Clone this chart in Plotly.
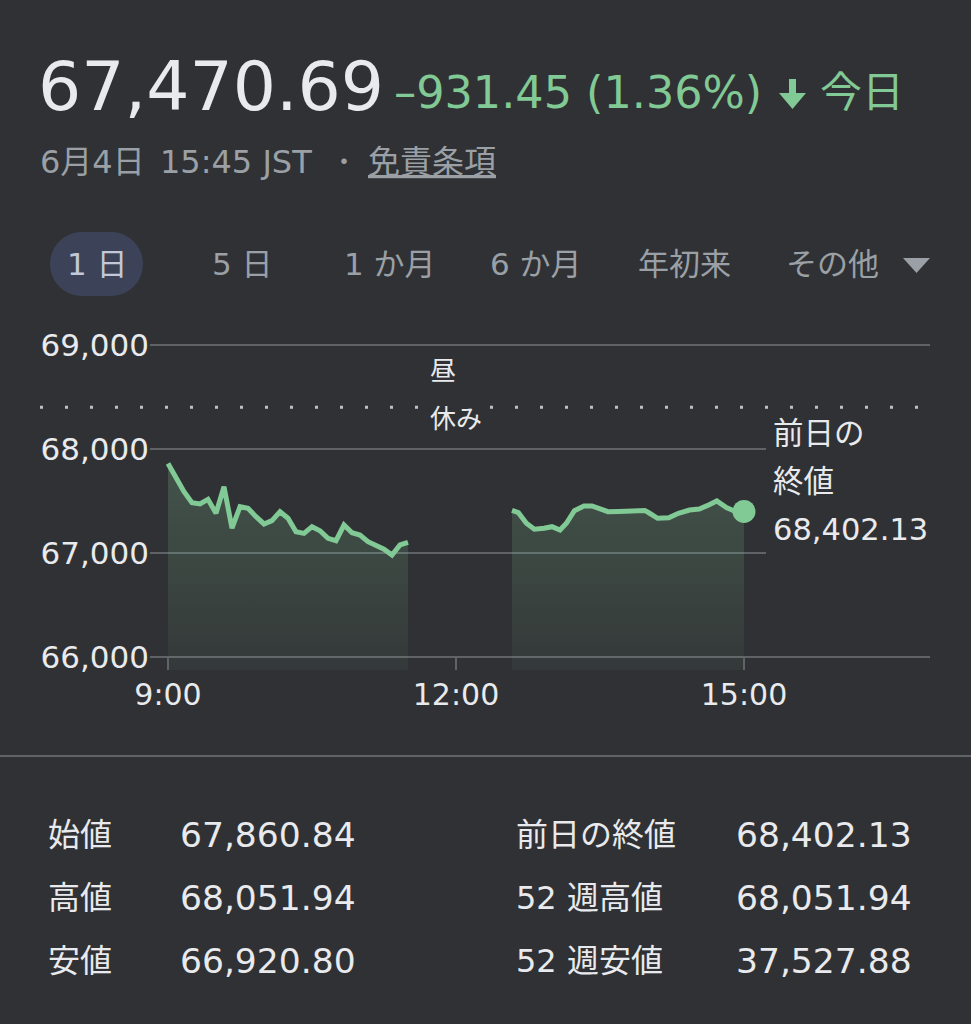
import plotly.graph_objects as go

W, H = 971, 1024
BG = "#303134"
GREEN = "#81c995"
TEXT = "#e8eaed"
GRAY = "#9aa0a6"
GRID = "#5f6368"
FONT = "DejaVu Sans, Noto Sans CJK JP, sans-serif"

DAY = "2025-06-04 "

# ---- data ----
morning_times = ["09:00", "09:05", "09:10", "09:15", "09:20", "09:25", "09:30", "09:35",
                 "09:40", "09:45", "09:50", "09:55", "10:00", "10:05", "10:10", "10:15",
                 "10:20", "10:25", "10:30", "10:35", "10:40", "10:45", "10:50", "10:55",
                 "11:00", "11:05", "11:10", "11:15", "11:20", "11:25", "11:30"]
morning_values = [67861, 67718, 67589, 67484, 67471, 67516, 67382, 67638,
                  67238, 67445, 67430, 67349, 67279, 67311, 67397, 67334,
                  67205, 67189, 67253, 67214, 67141, 67118, 67269, 67195,
                  67173, 67109, 67077, 67036, 66981, 67077, 67103]

afternoon_times = ["12:35", "12:39", "12:44", "12:49", "12:55", "13:00", "13:05", "13:09",
                   "13:14", "13:20", "13:25", "13:30", "13:35", "13:42", "13:51", "13:58",
                   "14:01", "14:06", "14:13", "14:19", "14:26", "14:32", "14:37", "14:43",
                   "14:49", "14:54", "15:00"]
afternoon_values = [67409, 67388, 67286, 67228, 67238, 67253, 67221, 67286,
                    67407, 67452, 67452, 67420, 67397, 67399, 67404, 67409,
                    67382, 67334, 67339, 67382, 67413, 67423, 67455, 67500,
                    67436, 67404, 67400]

prev_close = 68402.13
prev_close_label = ["前日の", "終値", "68,402.13"]
lunch_label = ["昼", "休み"]

y_ticks = [66000, 67000, 68000, 69000]
y_tick_labels = ["66,000", "67,000", "68,000", "69,000"]
x_ticks = ["09:00", "12:00", "15:00"]
x_tick_labels = ["9:00", "12:00", "15:00"]

headline_price = "67,470.69"
headline_change = "–931.45 (1.36%)"
headline_today = "今日"
timestamp_date = "6月4日"
timestamp_time = "15:45 JST"
disclaimer = "免責条項"

periods = ["1 日", "5 日", "1 か月", "6 か月", "年初来", "その他"]

stats_left_labels = ["始値", "高値", "安値"]
stats_left_values = ["67,860.84", "68,051.94", "66,920.80"]
stats_right_labels = ["前日の終値", "52 週高値", "52 週安値"]
stats_right_values = ["68,402.13", "68,051.94", "37,527.88"]

# ---- layout helpers (pixel -> paper) ----
def X(px):
    return px / W


def Y(py):
    return 1 - py / H


Y_MIN, Y_MAX = 65875, 69144
X_MIN, X_MAX = DAY + "08:48:45", DAY + "16:56:15"

fig = go.Figure()

for times, vals in [(morning_times, morning_values), (afternoon_times, afternoon_values)]:
    fig.add_trace(go.Scatter(
        x=[DAY + t for t in times], y=vals, mode="lines",
        line=dict(color=GREEN, width=5),
        fill="tozeroy",
        fillgradient=dict(type="vertical", start=Y_MIN, stop=68000,
                          colorscale=[[0, "rgba(129,201,149,0.05)"],
                                      [1, "rgba(129,201,149,0.24)"]]),
        hoverinfo="skip", showlegend=False))

fig.add_trace(go.Scatter(
    x=[DAY + afternoon_times[-1]], y=[afternoon_values[-1]], mode="markers",
    marker=dict(size=23, color=GREEN), hoverinfo="skip", showlegend=False))

shapes = []
# previous close dotted line
shapes.append(dict(type="line", xref="paper", yref="y", x0=X(40), x1=X(930),
                   y0=prev_close, y1=prev_close,
                   line=dict(color="#bdc1c6", width=3, dash="3px,22px"), layer="below"))
# mask behind previous-close label
shapes.append(dict(type="rect", xref="paper", yref="paper", x0=X(766), x1=X(940),
                   y0=Y(560), y1=Y(414), fillcolor=BG, line=dict(width=0), layer="above"))
# x tick marks
for t in x_ticks:
    shapes.append(dict(type="line", xref="x", yref="y", x0=DAY + t, x1=DAY + t,
                       y0=y_ticks[0], y1=Y_MIN, line=dict(color=GRID, width=2)))
# separator
shapes.append(dict(type="line", xref="paper", yref="paper", x0=0, x1=1,
                   y0=Y(756), y1=Y(756), line=dict(color=GRID, width=2)))

# down arrow glyph
arrow = "M {},{} L {},{} L {},{} L {},{} L {},{} L {},{} L {},{} Z".format(
    X(789), Y(79), X(796), Y(79), X(796), Y(93), X(806), Y(93),
    X(792.5), Y(109), X(779), Y(93), X(789), Y(93))
shapes.append(dict(type="path", xref="paper", yref="paper", path=arrow,
                   fillcolor=GREEN, line=dict(width=0)))
# dropdown triangle
tri = "M {},{} L {},{} L {},{} Z".format(X(903), Y(258), X(930), Y(258), X(916.5), Y(273))
shapes.append(dict(type="path", xref="paper", yref="paper", path=tri,
                   fillcolor=GRAY, line=dict(width=0)))
# selected pill
k = 17.7
pill = ("M {},{} L {},{} C {},{} {},{} {},{} C {},{} {},{} {},{} L {},{} "
        "C {},{} {},{} {},{} C {},{} {},{} {},{} Z").format(
    X(82), Y(232), X(111), Y(232),
    X(111 + k), Y(232), X(143), Y(264 - k), X(143), Y(264),
    X(143), Y(264 + k), X(111 + k), Y(296), X(111), Y(296),
    X(82), Y(296),
    X(82 - k), Y(296), X(50), Y(264 + k), X(50), Y(264),
    X(50), Y(264 - k), X(82 - k), Y(232), X(82), Y(232))
shapes.append(dict(type="path", xref="paper", yref="paper", path=pill,
                   fillcolor="#3c4257", line=dict(width=0), layer="below"))

annotations = []


def ann(text, x, y, size, color=TEXT, xanchor="left", bg=None):
    d = dict(text=text, x=X(x), y=Y(y), xref="paper", yref="paper",
             xanchor=xanchor, yanchor="middle", showarrow=False,
             font=dict(family=FONT, size=size, color=color))
    if bg:
        d["bgcolor"] = bg
    annotations.append(d)


ann(headline_price, 36, 86, 68)
ann(headline_change, 392, 92, 44.5, GREEN)
ann(headline_today, 818, 92, 42, GREEN)
ann(timestamp_date, 38, 162, 32, GRAY)
ann(timestamp_time, 158, 162, 32, GRAY)
ann("・", 344, 162, 26, GRAY, xanchor="center")
ann("<u>" + disclaimer + "</u>", 366, 162, 32, GRAY)

tab_centers = [97, 243, 390, 536, 684, 832]
for i, (p, cx) in enumerate(zip(periods, tab_centers)):
    ann(p, cx, 264, 31, "#c2c8d6" if i == 0 else GRAY, xanchor="center")

ann(lunch_label[0], 428, 371, 26)
ann(lunch_label[1], 428, 419, 26, bg=BG)
for i, line in enumerate(prev_close_label):
    ann(line, 771, 433 + i * 48, 30.5)

rows_y = [835, 898, 961]
for i, ry in enumerate(rows_y):
    ann(stats_left_labels[i], 46, ry, 32)
    ann(stats_left_values[i], 178, ry, 34.5)
    ann(stats_right_labels[i], 514, ry, 32)
    ann(stats_right_values[i], 734, ry, 34.5)

fig.update_layout(
    template="none",
    width=W, height=H, margin=dict(l=0, r=0, t=0, b=0, pad=0, autoexpand=False),
    paper_bgcolor=BG, plot_bgcolor=BG,
    shapes=shapes, annotations=annotations,
    xaxis=dict(domain=[X(150), X(930)], range=[X_MIN, X_MAX], type="date",
               tickvals=[DAY + t for t in x_ticks], ticktext=x_tick_labels,
               showgrid=False, zeroline=False, showline=False, ticks="",
               ticklabelstandoff=4, automargin=False,
               tickfont=dict(family=FONT, size=30, color=TEXT), fixedrange=True),
    yaxis=dict(domain=[Y(670), Y(330)], range=[Y_MIN, Y_MAX],
               tickvals=y_ticks, ticktext=y_tick_labels,
               showgrid=True, gridcolor=GRID, gridwidth=2, automargin=False,
               zeroline=False, showline=False, ticks="",
               tickfont=dict(family=FONT, size=31, color=TEXT), fixedrange=True),
    showlegend=False,
)

fig.write_html("out.html", config={"displayModeBar": False},
               post_script="document.body.style.margin='0';document.body.style.overflow='hidden';")
